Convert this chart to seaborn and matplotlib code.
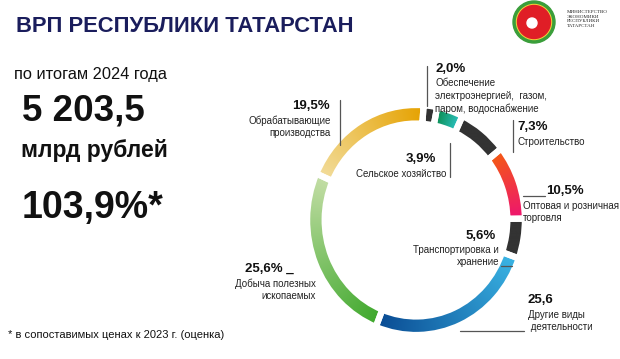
import numpy as np
import matplotlib.pyplot as plt
import seaborn as sns
from matplotlib.colors import LinearSegmentedColormap
from matplotlib.patches import Circle

# доли отраслей в ВРП, по часовой стрелке от верха кольца
sectors = ['Обеспечение', 'Сельское хозяйство', 'Строительство', 'Торговля',
           'Транспортировка', 'Другие виды', 'Добыча', 'Обрабатывающие']
shares = [2.0, 3.9, 7.3, 10.5, 5.6, 25.6, 25.6, 19.5]
share_labels = ['2,0%', '3,9%', '7,3%', '10,5%', '5,6%', '25,6', '25,6% _', '19,5%']
descr = ['Обеспечение\nэлектроэнергией,  газом,\nпаром, водоснабжение',
         'Сельское хозяйство',
         'Строительство',
         'Оптовая и розничная\nторговля',
         'Транспортировка и\nхранение',
         'Другие виды\n деятельности',
         'Добыча полезных\nископаемых',
         'Обрабатывающие\nпроизводства']

grads = [('#333333', '#333333'),
         ('#0a8c4e', '#2ec4c6'),
         ('#333333', '#333333'),
         ('#f45a14', '#ee1470'),
         ('#333333', '#333333'),
         ('#3ab4e4', '#0a4c94'),
         ('#3ea82c', '#c4dea6'),
         ('#f2dc9a', '#e6a200')]

sns.set_theme(style='white')
plt.rcParams['font.family'] = ['Liberation Sans', 'DejaVu Sans']

fig = plt.figure(figsize=(6.2, 3.59), dpi=100)

# кольцо (слегка вытянуто по вертикали, как на слайде)
cx, cy = 416, 220
bw, bh = 231, 244
ax = fig.add_axes([(cx - bw / 2) / 620, (359 - cy - bh / 2) / 359, bw / 620, bh / 359])
ax.patch.set_visible(False)
lw = 4.5
R = 1.10 + lw * 100 / 72 / 200
W = 0.12 + lw * 100 / 72 / 100
wedges, _ = ax.pie(shares, startangle=86, counterclock=False, radius=R,
                   wedgeprops=dict(width=W, facecolor='none', edgecolor='white', linewidth=lw))
grid = np.linspace(-1.2, 1.2, 600)
gx, gy = np.meshgrid(grid, grid)
phi = np.degrees(np.arctan2(gy, gx))
for w, (c0, c1) in zip(wedges, grads):
    w.set_zorder(3)
    t = ((w.theta2 - phi) % 360) / (w.theta2 - w.theta1)
    t = np.clip(t, 0, 1)
    cmap = LinearSegmentedColormap.from_list('g', [c0, c1])
    im = ax.imshow(t, cmap=cmap, vmin=0, vmax=1, extent=(-1.2, 1.2, -1.2, 1.2),
                   origin='lower', interpolation='bilinear', zorder=2)
    im.set_clip_path(w)
ax.set_xlim(-1.2, 1.2)
ax.set_ylim(-1.2, 1.2)
ax.set_aspect('auto')
ax.axis('off')

# слой с текстом поверх кольца
bg = fig.add_axes([0, 0, 1, 1])
bg.patch.set_visible(False)
bg.set_xlim(0, 620)
bg.set_ylim(359, 0)
bg.axis('off')

# левая часть
bg.text(16, 26, 'ВРП РЕСПУБЛИКИ ТАТАРСТАН', fontsize=15.8, fontweight='bold',
        color='#1a1d5c', va='center')
bg.text(14, 74, 'по итогам 2024 года', fontsize=11.8, color='#111111', va='center')
bg.text(22, 111, '5 203,5', fontsize=26.5, fontweight='bold', color='#111111', va='center')
bg.text(21, 150, 'млрд рублей', fontsize=16.5, fontweight='bold', color='#111111', va='center')
bg.text(22, 208, '103,9%*', fontsize=27, fontweight='bold', color='#111111', va='center')
bg.text(8, 335, '* в сопоставимых ценах к 2023 г. (оценка)', fontsize=8, color='#111111', va='center')

# подписи секторов: (x, y процента, выравнивание, x текста, y текста)
pos = [(435, 69, 'left', 435, 96),
       (436, 159, 'right', 446, 174),
       (517, 127, 'left', 517, 142),
       (546, 191, 'left', 523, 212),
       (496, 236, 'right', 499, 256),
       (528, 300, 'left', 528, 321),
       (294, 269, 'right', 316, 290),
       (330, 106, 'right', 331, 127)]
for lab, txt, (px, py, ha, tx, ty) in zip(share_labels, descr, pos):
    bg.text(px, py, lab, fontsize=9.5, fontweight='bold', color='#111111', ha=ha, va='center')
    bg.text(tx, ty, txt, fontsize=7, color='#222222', ha=ha, va='center', linespacing=1.3)

lc = '#555555'
bg.plot([427, 427], [66, 106], color=lc, lw=0.9)
bg.plot([450, 450], [143, 177], color=lc, lw=0.9)
bg.plot([513, 513], [120, 152], color=lc, lw=0.9)
bg.plot([523, 545], [196, 196], color=lc, lw=0.9)
bg.plot([501, 512], [266, 266], color=lc, lw=0.9)
bg.plot([460, 524], [331, 331], color=lc, lw=0.9)
bg.plot([340, 340], [100, 145], color=lc, lw=0.9)

# герб министерства
bg.add_patch(Circle((534, 22), 21, color='#3a9e3a'))
bg.add_patch(Circle((534, 22), 17.5, color='#f2d23a'))
bg.add_patch(Circle((534, 22), 16.5, color='#e01e26'))
bg.add_patch(Circle((532, 23), 5, color='white'))
bg.text(567, 19, 'МИНИСТЕРСТВО\nЭКОНОМИКИ\nРЕСПУБЛИКИ\nТАТАРСТАН', fontsize=3.6,
        family=['Liberation Serif', 'DejaVu Serif'], color='#222222', va='center', linespacing=1.2)

fig.savefig('out.png', dpi=100)
